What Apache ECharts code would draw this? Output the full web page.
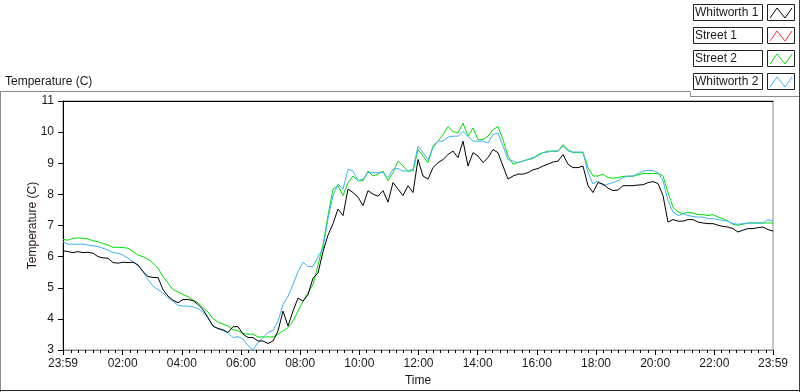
<!DOCTYPE html>
<html>
<head>
<meta charset="utf-8">
<script src="https://cdn.jsdelivr.net/npm/echarts@6/dist/echarts.min.js"></script>
<style>
  html, body { margin: 0; padding: 0; background: #fff; }
  #chart { width: 800px; height: 392px; }
</style>
</head>
<body>
<div id="chart"></div>
<script>
// readings every ~10 min, from 23:59 to 23:59 the next day
const seriesNames = ["Whitworth 1", "Street 1", "Street 2", "Whitworth 2"];
const seriesColors = ["#000000", "#ff3030", "#00e000", "#3cb4f0"];

const whitworth1 = [
  6.19, 6.16, 6.13, 6.16, 6.13, 6.14, 6.11, 6.00, 5.96, 5.95, 5.81, 5.79, 5.82, 5.81, 5.82, 5.73, 5.52, 5.36,
  5.33, 5.33, 4.94, 4.73, 4.60, 4.52, 4.62, 4.62, 4.59, 4.46, 4.30, 4.04, 3.77, 3.69, 3.65, 3.56, 3.75, 3.75,
  3.51, 3.40, 3.40, 3.29, 3.29, 3.21, 3.29, 3.61, 4.25, 3.77, 4.25, 4.67, 4.57, 4.78, 5.31, 5.47, 6.16, 6.69,
  7.06, 7.53, 7.32, 8.17, 8.06, 7.91, 7.64, 8.12, 8.01, 7.94, 8.12, 7.75, 8.38, 8.17, 7.96, 8.28, 8.06, 9.12,
  8.59, 8.49, 8.86, 9.02, 9.12, 9.28, 9.39, 9.18, 9.71, 8.91, 9.34, 9.23, 9.02, 9.18, 9.44, 9.34, 8.91, 8.49,
  8.59, 8.65, 8.65, 8.70, 8.79, 8.83, 8.91, 8.97, 9.04, 9.07, 9.28, 8.97, 8.86, 8.86, 8.91, 8.28, 8.06, 8.38,
  8.33, 8.20, 8.12, 8.14, 8.28, 8.28, 8.28, 8.30, 8.31, 8.38, 8.41, 8.35, 7.96, 7.11, 7.19, 7.14, 7.14, 7.19,
  7.19, 7.11, 7.08, 7.06, 7.06, 7.01, 6.97, 6.95, 6.90, 6.79, 6.85, 6.90, 6.90, 6.93, 6.95, 6.87, 6.82
];
const street1 = [];
const street2 = [
  6.55, 6.53, 6.59, 6.60, 6.59, 6.57, 6.51, 6.48, 6.42, 6.37, 6.30, 6.30, 6.29, 6.27, 6.16, 6.05, 6.00, 5.92,
  5.79, 5.63, 5.36, 5.15, 4.94, 4.87, 4.78, 4.71, 4.60, 4.52, 4.36, 4.22, 4.01, 3.90, 3.83, 3.77, 3.65, 3.62,
  3.53, 3.51, 3.51, 3.42, 3.42, 3.42, 3.42, 3.51, 3.61, 3.72, 3.93, 4.25, 4.57, 4.83, 5.10, 5.73, 6.37, 7.32,
  8.17, 8.28, 7.96, 8.38, 8.59, 8.44, 8.44, 8.75, 8.59, 8.65, 8.75, 8.44, 8.70, 9.07, 8.91, 8.75, 8.75, 9.44,
  9.23, 9.02, 9.55, 9.71, 9.92, 10.18, 10.02, 9.97, 10.29, 9.87, 10.13, 9.76, 9.76, 9.87, 10.08, 10.18, 9.76, 9.23,
  8.97, 9.02, 9.07, 9.12, 9.15, 9.28, 9.34, 9.39, 9.39, 9.39, 9.60, 9.44, 9.34, 9.34, 9.34, 8.86, 8.59, 8.59,
  8.65, 8.54, 8.52, 8.54, 8.58, 8.58, 8.58, 8.63, 8.67, 8.67, 8.67, 8.67, 8.59, 8.06, 7.59, 7.43, 7.38, 7.43,
  7.40, 7.35, 7.35, 7.32, 7.35, 7.27, 7.22, 7.14, 7.04, 7.01, 7.04, 7.08, 7.08, 7.08, 7.08, 7.08, 7.08
];
const whitworth2 = [
  6.48, 6.40, 6.40, 6.40, 6.40, 6.37, 6.35, 6.32, 6.27, 6.21, 6.13, 6.11, 6.05, 5.95, 5.84, 5.73, 5.52, 5.26,
  5.05, 4.94, 4.83, 4.68, 4.57, 4.43, 4.41, 4.41, 4.39, 4.33, 4.22, 4.01, 3.77, 3.69, 3.62, 3.56, 3.40, 3.43,
  3.35, 3.14, 3.00, 3.24, 3.40, 3.56, 3.63, 3.93, 4.46, 4.73, 5.10, 5.52, 5.82, 5.68, 5.68, 6.00, 6.26, 7.22,
  7.96, 8.33, 8.17, 8.81, 8.75, 8.44, 8.49, 8.70, 8.70, 8.70, 8.70, 8.54, 8.81, 8.83, 8.75, 8.75, 8.81, 9.55,
  9.34, 9.12, 9.50, 9.71, 9.71, 9.84, 9.87, 9.87, 10.02, 9.87, 9.71, 9.71, 9.71, 9.65, 9.92, 9.97, 9.55, 9.12,
  9.07, 9.02, 9.07, 9.12, 9.18, 9.23, 9.34, 9.36, 9.39, 9.39, 9.55, 9.39, 9.36, 9.36, 9.36, 8.70, 8.33, 8.44,
  8.28, 8.33, 8.38, 8.44, 8.54, 8.59, 8.59, 8.67, 8.75, 8.77, 8.77, 8.70, 8.44, 7.80, 7.43, 7.32, 7.38, 7.32,
  7.29, 7.27, 7.27, 7.22, 7.22, 7.19, 7.16, 7.14, 7.06, 7.04, 7.06, 7.08, 7.08, 7.08, 7.08, 7.19, 7.14
];

// x axis is minutes after the 23:59 start
const startClock = 23 * 60 + 59;
const spanMinutes = 1440;
const majorTicks = [0, 121, 241, 361, 481, 601, 721, 841, 961, 1081, 1201, 1321, 1440];
const yTicks = [3, 4, 5, 6, 7, 8, 9, 10, 11];

const minorTicks = [];
for (let m = 1; m < spanMinutes; m += 15) {
  if (!majorTicks.includes(m)) minorTicks.push(m);
}

function clockLabel(t) {
  const m = (startClock + Math.round(t)) % 1440;
  const hh = String(Math.floor(m / 60)).padStart(2, "0");
  const mm = String(m % 60).padStart(2, "0");
  return hh + ":" + mm;
}

function withTimes(values) {
  const step = spanMinutes / (values.length - 1);
  return values.map((v, i) => [i * step, v]);
}

const allValues = [whitworth1, street1, street2, whitworth2];
const font = "Liberation Sans";
const textColor = "#1a1a1a";

const chart = echarts.init(document.getElementById("chart"), null, { renderer: "canvas" });

const legendGraphics = [];
seriesNames.forEach((name, i) => {
  const top = 4 + i * 23;
  legendGraphics.push(
    {
      type: "rect",
      shape: { x: 693.5, y: top + 0.5, width: 69, height: 16 },
      style: { fill: "#fff", stroke: "#202020", lineWidth: 1 },
    },
    {
      type: "text",
      x: 695,
      y: top + 9,
      style: { text: name, font: "12px " + font, fill: textColor, textVerticalAlign: "middle" },
    },
    {
      type: "rect",
      shape: { x: 767.5, y: top + 0.5, width: 27, height: 16 },
      style: { fill: "#fff", stroke: "#202020", lineWidth: 1 },
    },
    {
      type: "polyline",
      shape: { points: [[770, top + 14], [777, top + 4], [785, top + 14], [792, top + 4]] },
      style: { stroke: seriesColors[i], lineWidth: 1, fill: null },
    }
  );
});

chart.setOption({
  animation: false,
  backgroundColor: "#fff",
  grid: {
    left: 63,
    top: 101,
    right: 27,
    bottom: 39,
    show: true,
    borderColor: "#8a8a8a",
    borderWidth: 1,
  },
  xAxis: [
    {
      type: "value",
      min: 0,
      max: spanMinutes,
      position: "bottom",
      name: "Time",
      nameLocation: "middle",
      nameGap: 25,
      nameTextStyle: { fontFamily: font, fontSize: 12, color: textColor },
      axisLine: { show: true, lineStyle: { color: "#8a8a8a", width: 1 } },
      axisTick: { show: true, customValues: majorTicks, length: 5, lineStyle: { color: "#000" } },
      axisLabel: {
        customValues: majorTicks,
        formatter: clockLabel,
        margin: 8,
        fontFamily: font,
        fontSize: 12,
        color: textColor,
        showMinLabel: true,
        showMaxLabel: true,
      },
      splitLine: { show: false },
    },
    {
      type: "value",
      min: 0,
      max: spanMinutes,
      position: "bottom",
      axisLine: { show: false },
      axisTick: { show: true, customValues: minorTicks, length: 3, lineStyle: { color: "#000" } },
      axisLabel: { show: false },
      splitLine: { show: false },
    },
    {
      type: "value",
      min: 0,
      max: spanMinutes,
      position: "top",
      axisLine: { show: true, lineStyle: { color: "#000", width: 1 } },
      axisTick: { show: false },
      axisLabel: { show: false },
      splitLine: { show: false },
    },
  ],
  yAxis: {
    type: "value",
    min: 3,
    max: 11,
    interval: 1,
    name: "Temperature (C)",
    nameLocation: "middle",
    nameGap: 24,
    nameMoveOverlap: false,
    nameTextStyle: { fontFamily: font, fontSize: 12, color: "#2a1515" },
    axisLine: { show: true, lineStyle: { color: "#000", width: 1 } },
    axisTick: { show: true, length: 5, lineStyle: { color: "#000" } },
    axisLabel: {
      margin: 9,
      fontFamily: font,
      fontSize: 12,
      color: textColor,
      formatter: (v) => (yTicks.includes(v) ? String(v) : ""),
    },
    splitLine: { show: false },
  },
  series: seriesNames.map((name, i) => ({
    name: name,
    type: "line",
    xAxisIndex: 0,
    data: withTimes(allValues[i]),
    showSymbol: false,
    symbol: "none",
    lineStyle: { color: seriesColors[i], width: 1 },
    z: i === 0 ? 5 : 3,
  })),
  graphic: [
    {
      type: "text",
      x: 5,
      y: 82,
      style: { text: "Temperature (C)", font: "12px " + font, fill: textColor, textVerticalAlign: "middle" },
    },
    { type: "line", shape: { x1: 0, y1: 91.5, x2: 690, y2: 91.5 }, style: { stroke: "#8a8a8a", lineWidth: 1 } },
    { type: "line", shape: { x1: 690.5, y1: 91.5, x2: 690.5, y2: 96.5 }, style: { stroke: "#8a8a8a", lineWidth: 1 } },
    { type: "line", shape: { x1: 690, y1: 96.5, x2: 800, y2: 96.5 }, style: { stroke: "#8a8a8a", lineWidth: 1 } },
    { type: "line", shape: { x1: 0.5, y1: 91, x2: 0.5, y2: 392 }, style: { stroke: "#8a8a8a", lineWidth: 1 } },
    { type: "line", shape: { x1: 799.5, y1: 0, x2: 799.5, y2: 392 }, style: { stroke: "#404040", lineWidth: 1 } },
    { type: "line", shape: { x1: 0, y1: 390.5, x2: 800, y2: 390.5 }, style: { stroke: "#202020", lineWidth: 1 } },
    ...legendGraphics,
  ],
});
</script>
</body>
</html>
